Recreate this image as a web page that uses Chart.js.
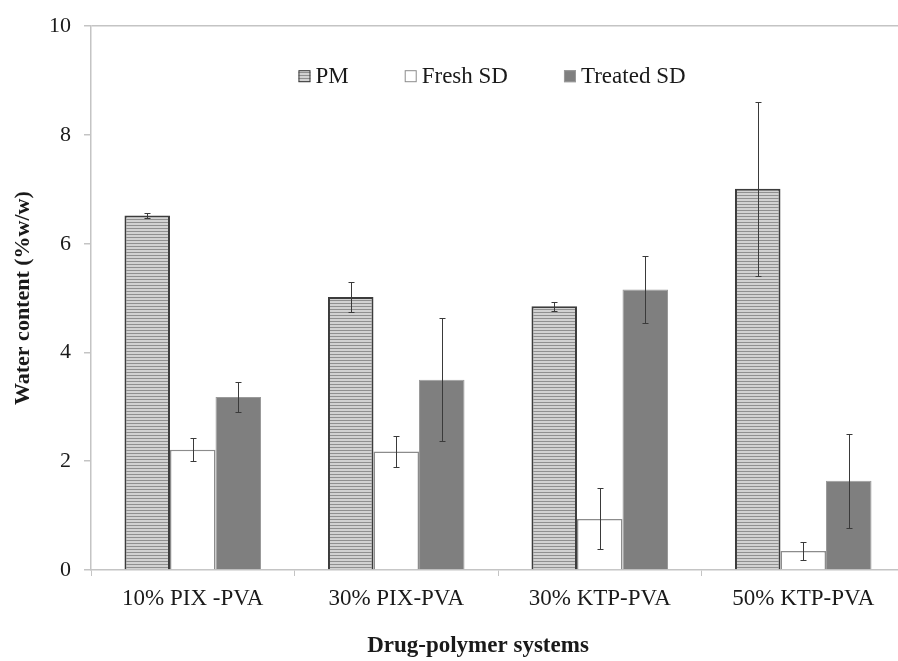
<!DOCTYPE html>
<html>
<head>
<meta charset="utf-8">
<title>Water content</title>
<script src="https://cdn.jsdelivr.net/npm/chart.js@4.4.1/dist/chart.umd.min.js"></script>
<style>
  html, body { margin: 0; padding: 0; background: #fff; overflow: hidden; }
  canvas { display: block; }
</style>
</head>
<body>
<canvas id="waterChart" width="912" height="661"></canvas>
<script>
const categories = ['10% PIX -PVA', '30% PIX-PVA', '30% KTP-PVA', '50% KTP-PVA'];
const seriesNames = ['PM', 'Fresh SD', 'Treated SD'];

// mean water content and standard deviation per system
const pmValues = [6.52, 5.02, 4.85, 7.01];
const pmErrors = [0.04, 0.27, 0.08, 1.60];
const freshValues = [2.21, 2.18, 0.94, 0.35];
const freshErrors = [0.21, 0.29, 0.56, 0.17];
const treatedValues = [3.18, 3.50, 5.16, 1.64];
const treatedErrors = [0.27, 1.13, 0.62, 0.86];

const yTicks = [0, 2, 4, 6, 8, 10];

const serif = "'Liberation Serif', 'Times New Roman', serif";
const axisGray = '#c4c4c4';
const textColor = '#1a1a1a';

// horizontal stripes for the PM bars
function stripePattern(ctx) {
    const tile = document.createElement('canvas');
    tile.width = 4;
    tile.height = 3;
    const t = tile.getContext('2d');
    t.fillStyle = '#d2d2d2';
    t.fillRect(0, 0, 4, 3);
    t.fillStyle = '#909090';
    t.fillRect(0, 0, 4, 1);
    return ctx.createPattern(tile, 'repeat');
}

const canvas = document.getElementById('waterChart');
const ctx = canvas.getContext('2d');
const stripes = stripePattern(ctx);

const errorBars = {
    id: 'errorBars',
    afterDatasetsDraw(chart) {
        const c = chart.ctx;
        const y = chart.scales.y;
        c.save();
        c.strokeStyle = '#3a3a3a';
        c.lineWidth = 1;
        chart.data.datasets.forEach((ds, i) => {
            const meta = chart.getDatasetMeta(i);
            meta.data.forEach((bar, j) => {
                const v = ds.data[j];
                const e = ds.errors[j];
                const x = Math.round(bar.x) + 0.5;
                const yTop = Math.round(y.getPixelForValue(v + e)) + 0.5;
                const yBot = Math.round(y.getPixelForValue(v - e)) + 0.5;
                c.beginPath();
                c.moveTo(x, yTop);
                c.lineTo(x, yBot);
                c.moveTo(x - 3, yTop);
                c.lineTo(x + 3, yTop);
                c.moveTo(x - 3, yBot);
                c.lineTo(x + 3, yBot);
                c.stroke();
            });
        });
        c.restore();
    }
};

// legend drawn inside the plot, near the top
const insideLegend = {
    id: 'insideLegend',
    afterDraw(chart) {
        const c = chart.ctx;
        const area = chart.chartArea;
        const box = 12, gap = 5, itemGap = 56;
        c.save();
        c.font = '23px ' + serif;
        c.textBaseline = 'middle';
        const widths = chart.data.datasets.map(ds => c.measureText(ds.label).width);
        const total = widths.reduce((s, w) => s + box + gap + w, 0) + itemGap * (widths.length - 1);
        let x = (area.left + area.right) / 2 - 6 - total / 2;
        const yMid = area.top + 50;
        chart.data.datasets.forEach((ds, i) => {
            c.fillStyle = ds.backgroundColor;
            c.fillRect(x, yMid - box / 2, box, box);
            c.strokeStyle = ds.borderColor;
            c.lineWidth = 1;
            c.strokeRect(x + 0.5, yMid - box / 2 + 0.5, box - 1, box - 1);
            c.fillStyle = textColor;
            c.fillText(ds.label, x + box + gap, yMid + 1);
            x += box + gap + widths[i] + itemGap;
        });
        c.restore();
    }
};

const xAxisTitle = {
    id: 'xAxisTitle',
    afterDraw(chart) {
        const c = chart.ctx;
        const area = chart.chartArea;
        c.save();
        c.font = 'bold 23px ' + serif;
        c.fillStyle = textColor;
        c.textAlign = 'center';
        c.textBaseline = 'middle';
        c.fillText('Drug-polymer systems', (area.left + area.right) / 2 - 20, chart.height - 15);
        c.restore();
    }
};

new Chart(ctx, {
    type: 'bar',
    data: {
        labels: categories,
        datasets: [
            {
                label: seriesNames[0],
                data: pmValues,
                errors: pmErrors,
                backgroundColor: stripes,
                borderColor: '#3c3c3c',
                borderWidth: 2
            },
            {
                label: seriesNames[1],
                data: freshValues,
                errors: freshErrors,
                backgroundColor: '#ffffff',
                borderColor: '#8c8c8c',
                borderWidth: 1.5
            },
            {
                label: seriesNames[2],
                data: treatedValues,
                errors: treatedErrors,
                backgroundColor: '#7f7f7f',
                borderColor: '#9a9a9a',
                borderWidth: 1
            }
        ]
    },
    options: {
        responsive: false,
        animation: false,
        categoryPercentage: 0.671,
        barPercentage: 1,
        layout: { padding: { top: 24, right: 7, bottom: 0, left: 0 } },
        plugins: {
            legend: { display: false },
            tooltip: { enabled: false }
        },
        scales: {
            x: {
                afterFit: scale => { scale.height = 91; },
                grid: {
                    offset: true,
                    drawOnChartArea: false,
                    tickLength: 6,
                    tickColor: axisGray
                },
                border: { color: axisGray, width: 1.5 },
                ticks: {
                    padding: 9,
                    color: textColor,
                    font: { family: serif, size: 23 }
                }
            },
            y: {
                min: 0,
                max: 10,
                afterFit: scale => { scale.width = 91; },
                afterBuildTicks: scale => { scale.ticks = yTicks.map(v => ({ value: v })); },
                grid: {
                    color: c => (c.tick && c.tick.value === 10 ? axisGray : 'rgba(0,0,0,0)'),
                    tickColor: axisGray,
                    tickLength: 7,
                    lineWidth: 1.5
                },
                border: { color: axisGray, width: 1.5 },
                ticks: {
                    padding: 13,
                    color: textColor,
                    font: { family: serif, size: 22 }
                },
                title: {
                    display: true,
                    text: 'Water content (%w/w)',
                    color: textColor,
                    font: { family: serif, size: 22, weight: 'bold' },
                    padding: { top: 10, bottom: 0 }
                }
            }
        }
    },
    plugins: [errorBars, insideLegend, xAxisTitle]
});
</script>
</body>
</html>
